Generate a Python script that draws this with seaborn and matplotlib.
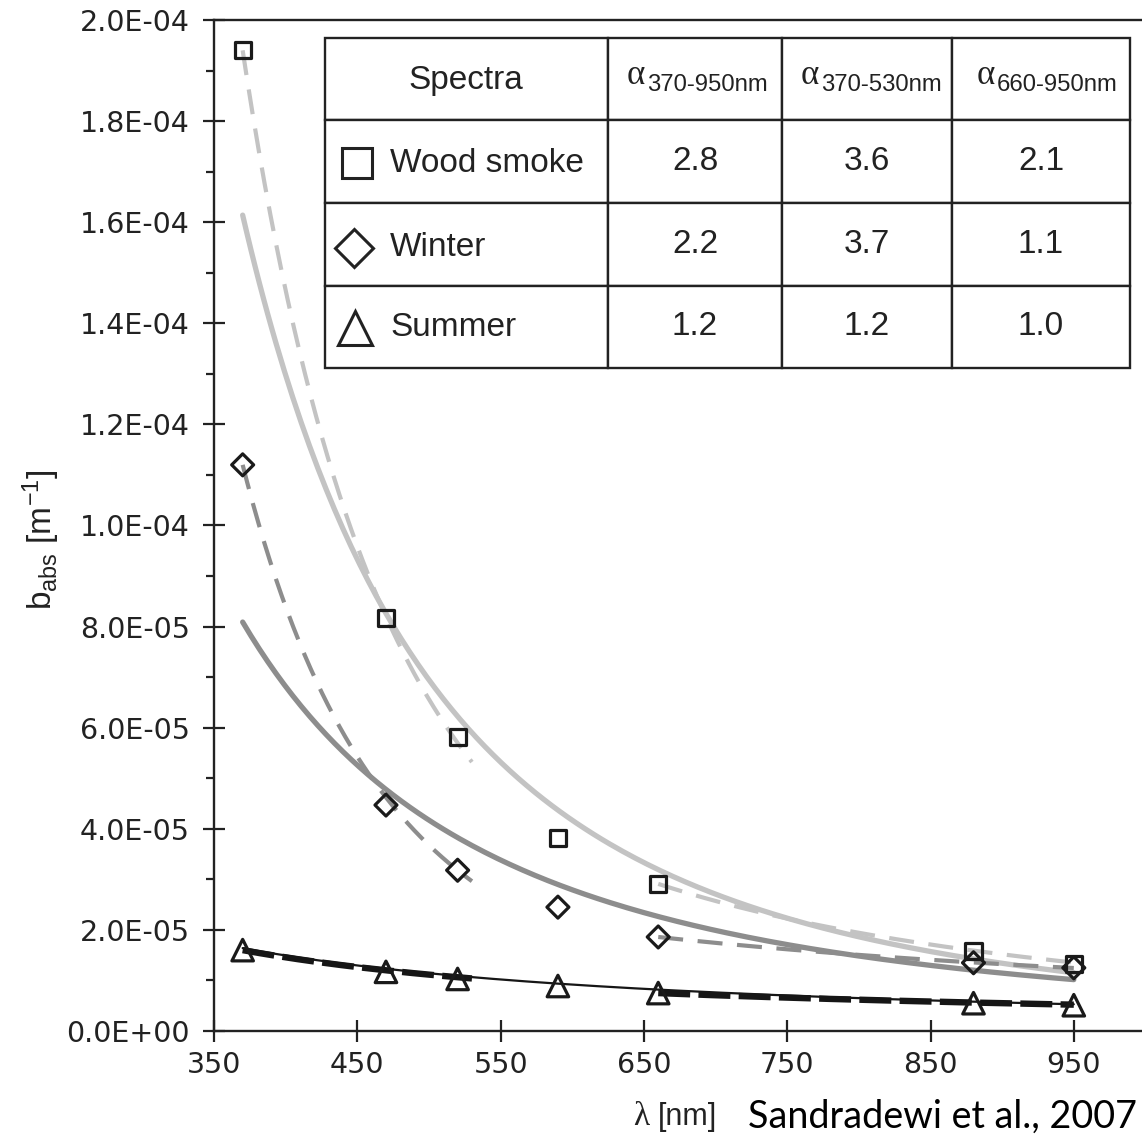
import numpy as np
import pandas as pd
import matplotlib
matplotlib.use("Agg")
import matplotlib.pyplot as plt
from matplotlib.ticker import FuncFormatter, MultipleLocator, FixedLocator
import seaborn as sns

# Aethalometer wavelengths (nm)
wavelengths = [370, 470, 520, 590, 660, 880, 950]

# Measured absorption coefficients b_abs (m^-1)
wood_smoke = [1.94e-4, 8.17e-5, 5.82e-5, 3.82e-5, 2.91e-5, 1.58e-5, 1.33e-5]
winter = [1.12e-4, 4.47e-5, 3.18e-5, 2.45e-5, 1.86e-5, 1.35e-5, 1.25e-5]
summer = [1.60e-5, 1.17e-5, 1.03e-5, 8.9e-6, 7.5e-6, 5.5e-6, 5.1e-6]

spectra = ["Wood smoke", "Winter", "Summer"]
alpha_370_950 = [2.8, 2.2, 1.2]
alpha_370_530 = [3.6, 3.7, 1.2]
alpha_660_950 = [2.1, 1.1, 1.0]

# Power-law fit amplitudes at the first wavelength of each fitting range
amp_370_950 = [1.614e-4, 8.09e-5, 1.64e-5]
amp_370_530 = [1.94e-4, 1.12e-4, 1.60e-5]
amp_660_950 = [2.91e-5, 1.86e-5, 7.5e-6]

x_ticks = [350, 450, 550, 650, 750, 850, 950]
header = ["Spectra", "370-950nm", "370-530nm", "660-950nm"]

# Styles per spectrum
colors = ["#c3c3c3", "#8d8d8d", "#161616"]
markers = ["s", "D", "^"]
marker_area = [135, 125, 240]
solid_lw = [3.8, 3.8, 1.6]
dash_lw = [3.0, 3.0, 4.6]
dash_pat = [(6, 3.5), (6, 3.5), (5, 1.3)]

sns.set_style("ticks")
plt.rcParams["font.family"] = ["DejaVu Sans"]
plt.rcParams["mathtext.default"] = "regular"

W, H = 1142, 1134
fig = plt.figure(figsize=(W / 100, H / 100), dpi=100)
L_PX, T_PX, B_PX = 214, 20, 1031
XMIN, XMAX = 350, 1000
PX_PER_NM = 1.433
W_PX = (XMAX - XMIN) * PX_PER_NM
H_PX = B_PX - T_PX
ax = fig.add_axes([L_PX / W, (H - B_PX) / H, W_PX / W, H_PX / H])


def axc(px, py):
    return (px - L_PX) / W_PX, (B_PX - py) / H_PX


def power_law(amp, alpha, lam0, lam1):
    lam = np.linspace(lam0, lam1, 200)
    return lam, amp * (lam / lam0) ** (-alpha)


series = [wood_smoke, winter, summer]

# Fits over the full range (solid)
for i in range(3):
    lam, val = power_law(amp_370_950[i], alpha_370_950[i], 370, 950)
    sns.lineplot(x=lam, y=val, ax=ax, color=colors[i], lw=solid_lw[i],
                 estimator=None, sort=False, zorder=2)

# Fits over the short- and long-wavelength ranges (dashed)
for i in range(3):
    for amp, alpha, l0, l1 in [(amp_370_530[i], alpha_370_530[i], 370, 530),
                               (amp_660_950[i], alpha_660_950[i], 660, 950)]:
        lam, val = power_law(amp, alpha, l0, l1)
        sns.lineplot(x=lam, y=val, ax=ax, color=colors[i], lw=dash_lw[i],
                     estimator=None, sort=False, zorder=3)
        ax.lines[-1].set_dashes(dash_pat[i])

# Measured spectra (open markers)
for i in range(3):
    sns.scatterplot(x=wavelengths, y=series[i], ax=ax, marker=markers[i],
                    s=marker_area[i], facecolor="none", edgecolor="#1a1a1a",
                    linewidth=2.3, zorder=5)

ax.set_xlim(XMIN, XMAX)
ax.set_ylim(0, 2.0e-4)
ax.xaxis.set_major_locator(FixedLocator(x_ticks))
ax.yaxis.set_major_locator(MultipleLocator(2e-5))
ax.yaxis.set_minor_locator(MultipleLocator(1e-5))
ax.yaxis.set_major_formatter(FuncFormatter(lambda v, _: f"{v:.1E}"))
ax.set_xlabel("")
ax.set_ylabel("")

for side in ["left", "bottom", "top", "right"]:
    ax.spines[side].set_linewidth(1.7)
    ax.spines[side].set_color("#222222")

ax.tick_params(axis="both", which="major", direction="inout", length=16.5,
               width=1.6, color="#222222", labelsize=20.5, labelcolor="#222222")
ax.tick_params(axis="y", which="major", pad=9)
ax.tick_params(axis="x", which="major", pad=6)
ax.tick_params(axis="y", which="minor", direction="out", length=6,
               width=1.6, color="#222222")
ax.tick_params(top=False, right=False, which="both")

# Table of Angstrom exponents
col_px = [325, 608, 782, 952, 1130]
col_w = np.diff(col_px)
x0, y0 = axc(325, 368)
tbl_w = (1130 - 325) / W_PX
tbl_h = (368 - 38) / H_PX
cell_text = [["", "", "", ""]] + [
    ["", f"{a:.1f}", f"{b:.1f}", f"{c:.1f}"]
    for a, b, c in zip(alpha_370_950, alpha_370_530, alpha_660_950)
]
tab = ax.table(cellText=cell_text, colWidths=list(col_w / col_w.sum()),
               cellLoc="center", bbox=[x0, y0, tbl_w, tbl_h], zorder=10)
tab.auto_set_font_size(False)
tab.set_fontsize(24)
for cell in tab.get_celld().values():
    cell.set_linewidth(1.7)
    cell.set_edgecolor("#222222")
    cell.set_facecolor("white")
    cell.get_text().set_family("Liberation Sans")
    cell.get_text().set_color("#222222")

tx, ty = axc(466, 80)
ax.text(tx, ty, header[0], transform=ax.transAxes, ha="center", va="center",
        fontsize=24, family="Liberation Sans", color="#222222", zorder=12)
for a_px, s_px, sub in zip([636, 810, 986], [647, 821, 997], header[1:]):
    ax_, ay_ = axc(a_px, 76)
    ax.text(ax_, ay_, "\u03b1", transform=ax.transAxes, ha="center",
            va="center", fontsize=25, family="Liberation Serif",
            color="#222222", zorder=12)
    sx, sy = axc(s_px, 85)
    ax.text(sx, sy, sub, transform=ax.transAxes, ha="left", va="center",
            fontsize=17.2, family="Liberation Sans", color="#222222",
            zorder=12)

row_y = [163, 248, 328]
marker_px = [(357, 163, 21.5), (354, 248, 19.3), (355, 328, 24.5)]
for name, ry, (mx, my, ms), mk in zip(spectra, row_y, marker_px, markers):
    nx, ny = axc(390, ry)
    ax.text(nx, ny, name, transform=ax.transAxes, ha="left", va="center",
            fontsize=24, family="Liberation Sans", color="#222222", zorder=12)
    px_, py_ = axc(mx, my)
    ax.plot([px_], [py_], transform=ax.transAxes, marker=mk, ms=ms,
            mfc="white", mec="#222222", mew=2.2, ls="none", clip_on=False,
            zorder=12)

# Axis titles and source note
fig.text(41 / W, 1 - 540 / H, r"b$_{abs}$ [m$^{-1}$]", rotation=90,
         ha="center", va="center", fontsize=24, family="Liberation Sans",
         color="#222222")
fig.text(649 / W, 1 - 1117 / H, "\u03bb", ha="right", va="center",
         fontsize=24, family="Liberation Serif", color="#222222")
fig.text(658 / W, 1 - 1117 / H, "[nm]", ha="left", va="center",
         fontsize=22, family="Liberation Sans", color="#222222")
fig.text(748 / W, 1 - 1117 / H, "Sandradewi et al., 2007", ha="left",
         va="center", fontsize=27.2, family="Lato", color="black")

fig.savefig("out.png", dpi=100)
